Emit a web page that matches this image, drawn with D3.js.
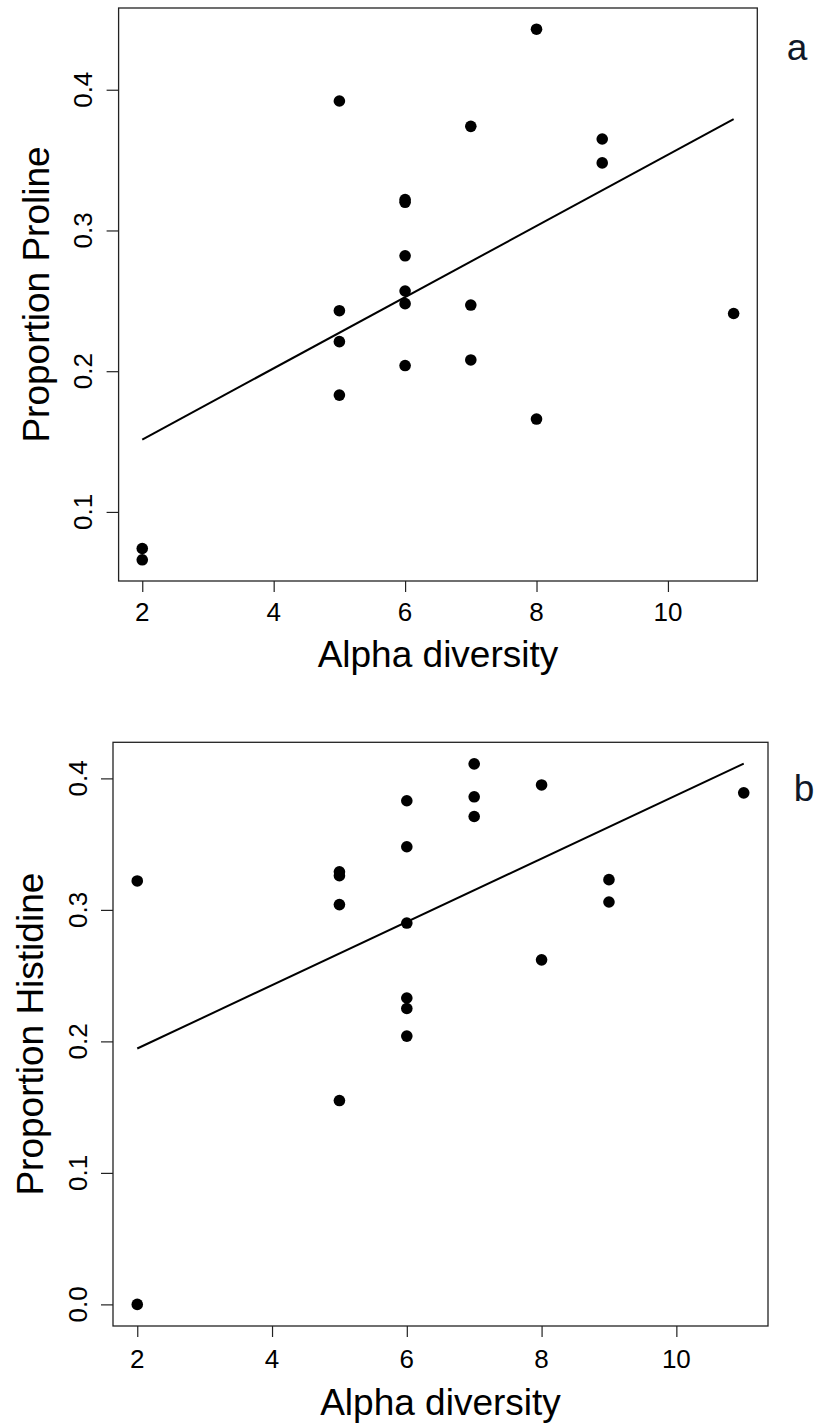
<!DOCTYPE html>
<html>
<head>
<meta charset="utf-8">
<script src="https://cdn.jsdelivr.net/npm/d3@7"></script>
<style>
  html, body { margin: 0; padding: 0; background: #fff; }
  svg { display: block; font-family: "Liberation Sans", Arial, Helvetica, sans-serif; }
</style>
</head>
<body>
<svg id="fig" width="818" height="1425"></svg>
<script>
// Alpha diversity of each sample (shared by both panels)
const alphaDiversity = [2, 2, 5, 5, 5, 5, 6, 6, 6, 6, 6, 6, 7, 7, 7, 8, 8, 9, 9, 11];
// Proportion of proline per sample
const prolineProp = [0.074, 0.066, 0.392, 0.243, 0.221, 0.183, 0.322, 0.320, 0.282, 0.257,
                     0.248, 0.204, 0.374, 0.247, 0.208, 0.443, 0.166, 0.365, 0.348, 0.241];
// Proportion of histidine per sample
const histidineProp = [0.322, 0.000, 0.329, 0.326, 0.304, 0.155, 0.383, 0.348, 0.290, 0.233,
                       0.225, 0.204, 0.411, 0.386, 0.371, 0.395, 0.262, 0.323, 0.306, 0.389];
// Tick values
const xTicks = [2, 4, 6, 8, 10];
const prolineTicks = [0.1, 0.2, 0.3, 0.4];
const histidineTicks = [0.0, 0.1, 0.2, 0.3, 0.4];

const svg = d3.select("#fig");

// extend an extent by 4% on each side
function padded(ext) {
  const d = (ext[1] - ext[0]) * 0.04;
  return [ext[0] - d, ext[1] + d];
}

// ordinary least squares fit
function fit(xs, ys) {
  const mx = d3.mean(xs), my = d3.mean(ys);
  let sxy = 0, sxx = 0;
  xs.forEach((x, i) => { sxy += (x - mx) * (ys[i] - my); sxx += (x - mx) * (x - mx); });
  const b = sxy / sxx;
  return { a: my - b * mx, b };
}

function panel(cfg) {
  const { box, ys, yTicks, yTitle, letter } = cfg;
  const g = svg.append("g");
  const x = d3.scaleLinear().domain(padded(d3.extent(alphaDiversity))).range([box.left, box.right]);
  const y = d3.scaleLinear().domain(padded(d3.extent(ys))).range([box.bottom, box.top]);
  const fs = 26;

  // x axis
  const xAxis = g.append("g")
    .attr("transform", `translate(0,${box.bottom})`)
    .call(d3.axisBottom(x).tickValues(xTicks).tickSize(11).tickFormat(d3.format("d")));
  xAxis.select(".domain").remove();
  xAxis.selectAll(".tick line").attr("stroke", "#222").attr("stroke-width", 1.2);
  xAxis.selectAll(".tick text").remove();
  g.selectAll(".xlab").data(xTicks).join("text")
    .attr("x", d => x(d)).attr("y", cfg.xLabBase)
    .attr("text-anchor", "middle").attr("font-size", fs).attr("fill", "#000")
    .text(d3.format("d"));

  // y axis
  const yAxis = g.append("g")
    .attr("transform", `translate(${box.left},0)`)
    .call(d3.axisLeft(y).tickValues(yTicks).tickSize(12).tickFormat(d3.format(".1f")));
  yAxis.select(".domain").remove();
  yAxis.selectAll(".tick line").attr("stroke", "#222").attr("stroke-width", 1.2);
  yAxis.selectAll(".tick text").remove();
  g.selectAll(".ylab").data(yTicks).join("text")
    .attr("transform", d => `translate(${cfg.yLabBase},${y(d)}) rotate(-90)`)
    .attr("text-anchor", "middle").attr("font-size", fs).attr("fill", "#000")
    .text(d3.format(".1f"));

  // frame
  g.append("rect")
    .attr("x", box.left).attr("y", box.top)
    .attr("width", box.right - box.left).attr("height", box.bottom - box.top)
    .attr("fill", "none").attr("stroke", "#222").attr("stroke-width", 1.3);

  // fitted regression line
  const m = fit(alphaDiversity, ys);
  const [x0, x1] = d3.extent(alphaDiversity);
  g.append("line")
    .attr("x1", x(x0)).attr("y1", y(m.a + m.b * x0))
    .attr("x2", x(x1)).attr("y2", y(m.a + m.b * x1))
    .attr("stroke", "#000").attr("stroke-width", 2);

  // sample points
  g.selectAll(".pt").data(alphaDiversity.map((a, i) => [a, ys[i]])).join("circle")
    .attr("cx", d => x(d[0])).attr("cy", d => y(d[1])).attr("r", 5.8)
    .attr("fill", "#000");

  // axis titles
  g.append("text")
    .attr("x", (box.left + box.right) / 2).attr("y", cfg.xTitleBase)
    .attr("text-anchor", "middle").attr("font-size", 37).attr("fill", "#000")
    .text("Alpha diversity");
  g.append("text")
    .attr("transform", `translate(${cfg.yTitleBase},${(box.top + box.bottom) / 2}) rotate(-90)`)
    .attr("text-anchor", "middle").attr("font-size", 37).attr("fill", "#000")
    .text(yTitle);

  // panel letter
  g.append("text")
    .attr("x", letter.x).attr("y", letter.y)
    .attr("text-anchor", "middle").attr("font-size", 37).attr("fill", "#101828")
    .text(letter.t);
}

panel({
  box: { left: 118.6, right: 757.3, top: 8, bottom: 581 },
  ys: prolineProp, yTicks: prolineTicks, yTitle: "Proportion Proline",
  xLabBase: 621, yLabBase: 92, xTitleBase: 667, yTitleBase: 49,
  letter: { t: "a", x: 797, y: 60 }
});

panel({
  box: { left: 113, right: 768, top: 742.3, bottom: 1326 },
  ys: histidineProp, yTicks: histidineTicks, yTitle: "Proportion Histidine",
  xLabBase: 1368, yLabBase: 87, xTitleBase: 1415, yTitleBase: 43,
  letter: { t: "b", x: 804, y: 801 }
});
</script>
</body>
</html>
